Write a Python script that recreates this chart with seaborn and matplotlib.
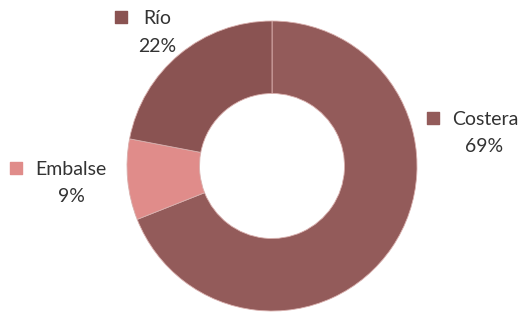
import matplotlib
matplotlib.use("Agg")
import matplotlib.pyplot as plt
import seaborn as sns

categories = ["Costera", "Embalse", "Río"]
values = [69, 9, 22]
colors = ["#935B5A", "#E08C8A", "#8A5352"]
pct_labels = ["69%", "9%", "22%"]

sns.set_theme(style="white")
plt.rcParams['font.family'] = ['Lato', 'DejaVu Sans']

W, H = 528, 314
fig = plt.figure(figsize=(W / 100, H / 100), dpi=100)
ax = fig.add_axes([0, 0, 1, 1])
R = 145.0
cx, cy = 272, 166

def px(x, y):
    return ((x - cx) / R, (cy - y) / R)

ax.pie(values, colors=colors, startangle=90, counterclock=False, radius=1.0,
       wedgeprops=dict(width=0.5, edgecolor="#d9b0ae", linewidth=0.6))
ax.set_xlim(-cx / R, (W - cx) / R)
ax.set_ylim(-(H - cy) / R, cy / R)
ax.set_aspect("equal")
ax.axis("off")

# label layout: (square x, square y, name cx, name y, pct cx, pct y)
layout = {
    "Costera": (433, 118, 485, 119, 484, 146),
    "Embalse": (16, 168, 71, 169, 71, 196),
    "Río": (121, 17, 157, 18, 157, 46),
}
txt = "#333333"
for cat, col, pl in zip(categories, colors, pct_labels):
    sx, sy, nx, ny, qx, qy = layout[cat]
    ax.scatter(*px(sx, sy), marker="s", s=75, color=col, clip_on=False)
    ax.text(*px(nx, ny), cat, ha="center", va="center", fontsize=14, color=txt)
    ax.text(*px(qx, qy), pl, ha="center", va="center", fontsize=14, color=txt)

fig.savefig("out.png", dpi=100, facecolor="white")
